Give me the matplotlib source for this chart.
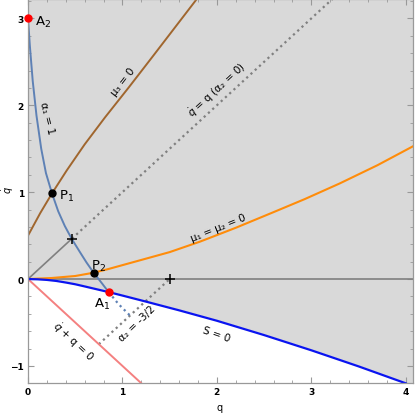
import numpy as np
import matplotlib.pyplot as plt
from matplotlib.ticker import MultipleLocator

# courbes (q, qdot)
alpha1_q = [0, 0.02, 0.05, 0.09, 0.14, 0.19, 0.254, 0.32, 0.39, 0.466, 0.55, 0.62, 0.695, 0.78, 0.854]
alpha1_qd = [3.0, 2.68, 2.28, 1.88, 1.50, 1.22, 0.986, 0.78, 0.61, 0.457, 0.31, 0.19, 0.073, -0.045, -0.15]
alpha1_ext_q = [0.854, 0.96, 1.08]
alpha1_ext_qd = [-0.15, -0.29, -0.42]

mu3_q = [0, 0.13, 0.254, 0.41, 0.6, 0.815, 1.07, 1.326, 1.785]
mu3_qd = [0.5, 0.76, 0.986, 1.25, 1.55, 1.86, 2.21, 2.57, 3.22]

mu12_q = [0, 0.25, 0.5, 0.695, 0.85, 1.0, 1.25, 1.5, 1.82, 2.2, 2.6, 2.93, 3.3, 3.7, 4.08]
mu12_qd = [0, 0.012, 0.035, 0.073, 0.115, 0.16, 0.235, 0.31, 0.43, 0.59, 0.77, 0.92, 1.1, 1.31, 1.53]

S_q = [0, 0.1, 0.2, 0.3, 0.4, 0.5, 0.6, 0.854, 1.0, 1.25, 1.6, 2.0, 2.5, 3.0, 3.5, 4.0]
S_qd = [0, -0.003, -0.01, -0.022, -0.04, -0.06, -0.085, -0.15, -0.19, -0.26, -0.36, -0.48, -0.645, -0.82, -1.005, -1.2]

diag_q = [0.466, 3.22]      # qdot = q (alpha2 = 0)
diag_solid_q = [0, 0.466]
alpha2_q = [0.75, 1.5]      # qdot = q - 3/2
red_q = [0, 1.2]            # qdot + q = 0
horiz_q = [0, 4.08]

P1 = (0.254, 0.986)
P2 = (0.695, 0.073)
A1 = (0.854, -0.15)
A2 = (0, 3.0)
crosses_q = [0.466, 1.5]
crosses_qd = [0.466, 0]

fig = plt.figure(figsize=(4.15, 4.14), dpi=100)
ax = fig.add_axes([28 / 415, 1 - 384.3 / 414, 385.3 / 415, 384 / 414])
ax.set_facecolor('#d9d9d9')
ax.set_xlim(0, 4.08)
ax.set_ylim(-1.2, 3.22)

# zone blanche sous S = 0
ax.fill_between(S_q, S_qd, -5, color='white', zorder=0)

ax.plot(horiz_q, [0, 0], color='#808080', lw=1.2)
ax.plot(diag_solid_q, diag_solid_q, color='#808080', lw=1.2)
ax.plot(diag_q, diag_q, color='#808080', lw=1.6, ls=(0, (1, 1.6)))
ax.plot(alpha2_q, [q - 1.5 for q in alpha2_q], color='#808080', lw=1.6, ls=(0, (1, 1.6)))
ax.plot(red_q, [-q for q in red_q], color='#f48080', lw=1.4)
ax.plot(mu3_q, mu3_qd, color='#a0662e', lw=1.4)
ax.plot(mu12_q, mu12_qd, color='#ff8c0a', lw=1.5)
ax.plot(S_q, S_qd, color='#0a14f0', lw=1.6)
ax.plot(alpha1_q, alpha1_qd, color='#5e81b5', lw=1.4)
ax.plot(alpha1_ext_q, alpha1_ext_qd, color='#5e81b5', lw=1.6, ls=(0, (1, 1.6)))

ax.plot(crosses_q, crosses_qd, ls='none', marker='+', ms=6.5, mew=1.1, color='black', zorder=5)
ax.plot([P1[0], P2[0]], [P1[1], P2[1]], ls='none', marker='o', ms=5, color='black', zorder=6)
ax.plot([A1[0], A2[0]], [A1[1], A2[1]], ls='none', marker='o', ms=5, color='red', zorder=6, clip_on=False)

# etiquettes des points
pkw = dict(fontsize=9.5, va='center')
ax.text(0.075, 2.97, r'$\mathregular{A_2}$', ha='left', **pkw)
ax.text(0.33, 0.96, r'$\mathregular{P_1}$', ha='left', **pkw)
ax.text(0.745, 0.16, r'$\mathregular{P_2}$', ha='center', **pkw)
ax.text(0.78, -0.28, r'$\mathregular{A_1}$', ha='center', **pkw)

# etiquettes des courbes
kw = dict(fontsize=7.5, ha='center', va='center', rotation_mode='anchor')
ax.text(0.2, 1.86, 'α₁ = 1', rotation=-76, **kw)
ax.text(1.01, 2.28, 'μ₃ = 0', rotation=52, **kw)
ax.text(2.0, 2.18, r'$\dot{q}$ = q (α₂ = 0)', rotation=42.6, **kw)
ax.text(2.01, 0.6, 'μ₁ = μ₂ = 0', rotation=22, **kw)
ax.text(2.0, -0.63, 'S = 0', rotation=-19, **kw)
ax.text(1.15, -0.5, 'α₂ = -3/2', rotation=44, **kw)
ax.text(0.48, -0.71, r'$\dot{q}$ + q = 0', rotation=-43, **kw)

ax.set_xlabel('q', fontsize=7)
ax.xaxis.set_label_coords(0.498, -0.048)
fig.text(8 / 415, 1 - 190 / 414, r'$\dot{q}$', fontsize=7, rotation=90,
         ha='center', va='center')

ax.xaxis.set_major_locator(MultipleLocator(1))
ax.xaxis.set_minor_locator(MultipleLocator(0.2))
ax.yaxis.set_major_locator(MultipleLocator(1))
ax.yaxis.set_minor_locator(MultipleLocator(0.2))
ax.tick_params(which='both', direction='in', top=True, right=True, color='#999999',
               labelsize=6.5, pad=3)
ax.tick_params(which='major', length=4, width=0.8)
ax.tick_params(which='minor', length=2.3, width=0.6)
for lab in ax.get_xticklabels() + ax.get_yticklabels():
    lab.set_fontweight('bold')
for sp in ax.spines.values():
    sp.set_color('#999999')
    sp.set_linewidth(0.9)

fig.savefig('out.png', dpi=100)
